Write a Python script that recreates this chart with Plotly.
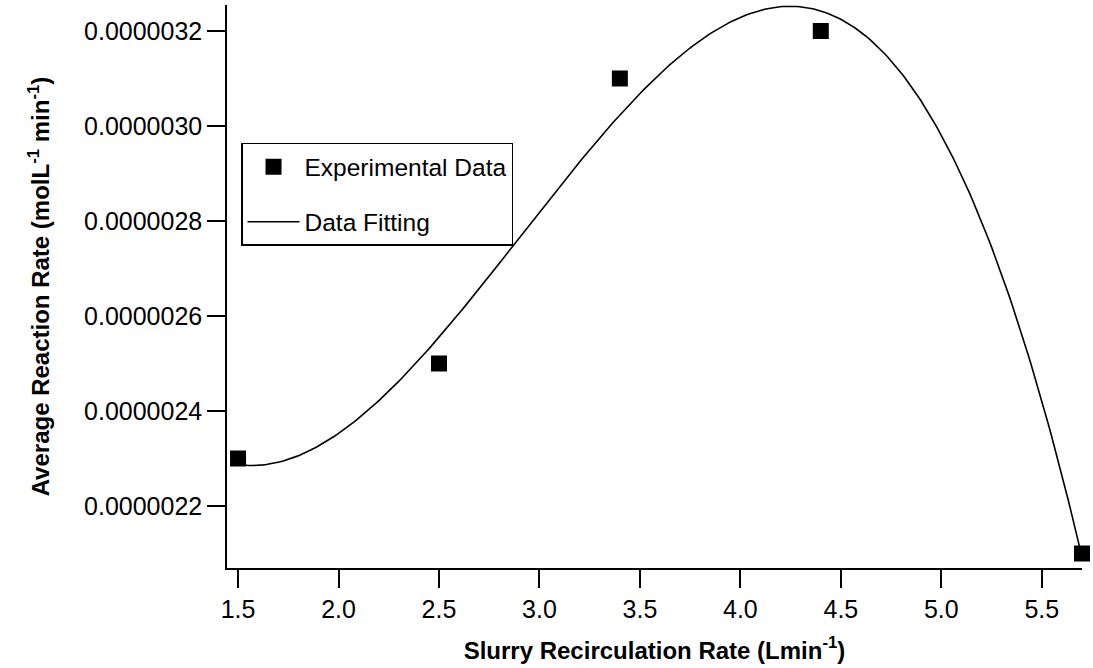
import numpy as np
import plotly.graph_objects as go

# Measured average reaction rate versus slurry recirculation rate
recirc_rate = [1.5, 2.5, 3.4, 4.4, 5.7]          # L min^-1
reaction_rate = [2.3e-6, 2.5e-6, 3.1e-6, 3.2e-6, 2.1e-6]  # mol L^-1 min^-1

x_ticks = [1.5, 2.0, 2.5, 3.0, 3.5, 4.0, 4.5, 5.0, 5.5]
y_ticks = [2.2e-6, 2.4e-6, 2.6e-6, 2.8e-6, 3.0e-6, 3.2e-6]

# Third-order polynomial fitted to the measurements
coeffs = np.polyfit(recirc_rate, reaction_rate, 3)
x_fit = np.linspace(min(recirc_rate), max(recirc_rate), 300)
y_fit = np.polyval(coeffs, x_fit)

FONT = "Arial, Liberation Sans, sans-serif"

fig = go.Figure()
fig.add_trace(go.Scatter(
    x=recirc_rate, y=reaction_rate, mode="markers",
    name="Experimental Data", legendgroup="a",
    marker=dict(symbol="square", size=16, color="black", line=dict(width=0)),
    cliponaxis=False,
))
fig.add_trace(go.Scatter(
    x=x_fit, y=y_fit, mode="lines",
    name="Data Fitting", legendgroup="b",
    line=dict(color="black", width=1.6),
    cliponaxis=False,
))

fig.update_layout(
    width=1093, height=668,
    margin=dict(l=227, r=11, t=5, b=100),
    paper_bgcolor="white", plot_bgcolor="white",
    font=dict(family=FONT, color="black"),
    showlegend=True,
    legend=dict(
        x=0.0164, y=0.755, xanchor="left", yanchor="top",
        bordercolor="black", borderwidth=1.5, bgcolor="white",
        font=dict(size=24.5, family=FONT, color="black"),
        traceorder="grouped", tracegroupgap=20,
        itemwidth=52,
    ),
    xaxis=dict(
        range=[1.445, 5.70],
        tickvals=x_ticks, ticktext=[f"{v:.1f}" for v in x_ticks],
        ticks="outside", ticklen=18, tickwidth=1.5, tickcolor="black",
        showline=True, linecolor="black", linewidth=1.5,
        showgrid=False, zeroline=False,
        tickfont=dict(size=25, family=FONT),
        title=dict(text="<b>Slurry Recirculation Rate (Lmin<sup>-1</sup>)</b>",
                   font=dict(size=24, family=FONT), standoff=20),
    ),
    yaxis=dict(
        range=[2.0695e-6, 3.2547e-6],
        tickvals=y_ticks, ticktext=[f"{v:.7f}" for v in y_ticks],
        ticks="outside", ticklen=18, tickwidth=1.5, tickcolor="black",
        showline=True, linecolor="black", linewidth=1.5,
        showgrid=False, zeroline=False,
        tickfont=dict(size=25, family=FONT),
        title=dict(text="<b>Average Reaction Rate (molL<sup>-1</sup> min<sup>-1</sup>)</b>",
                   font=dict(size=24, family=FONT), standoff=28),
    ),
)

fig.write_html("out.html")
